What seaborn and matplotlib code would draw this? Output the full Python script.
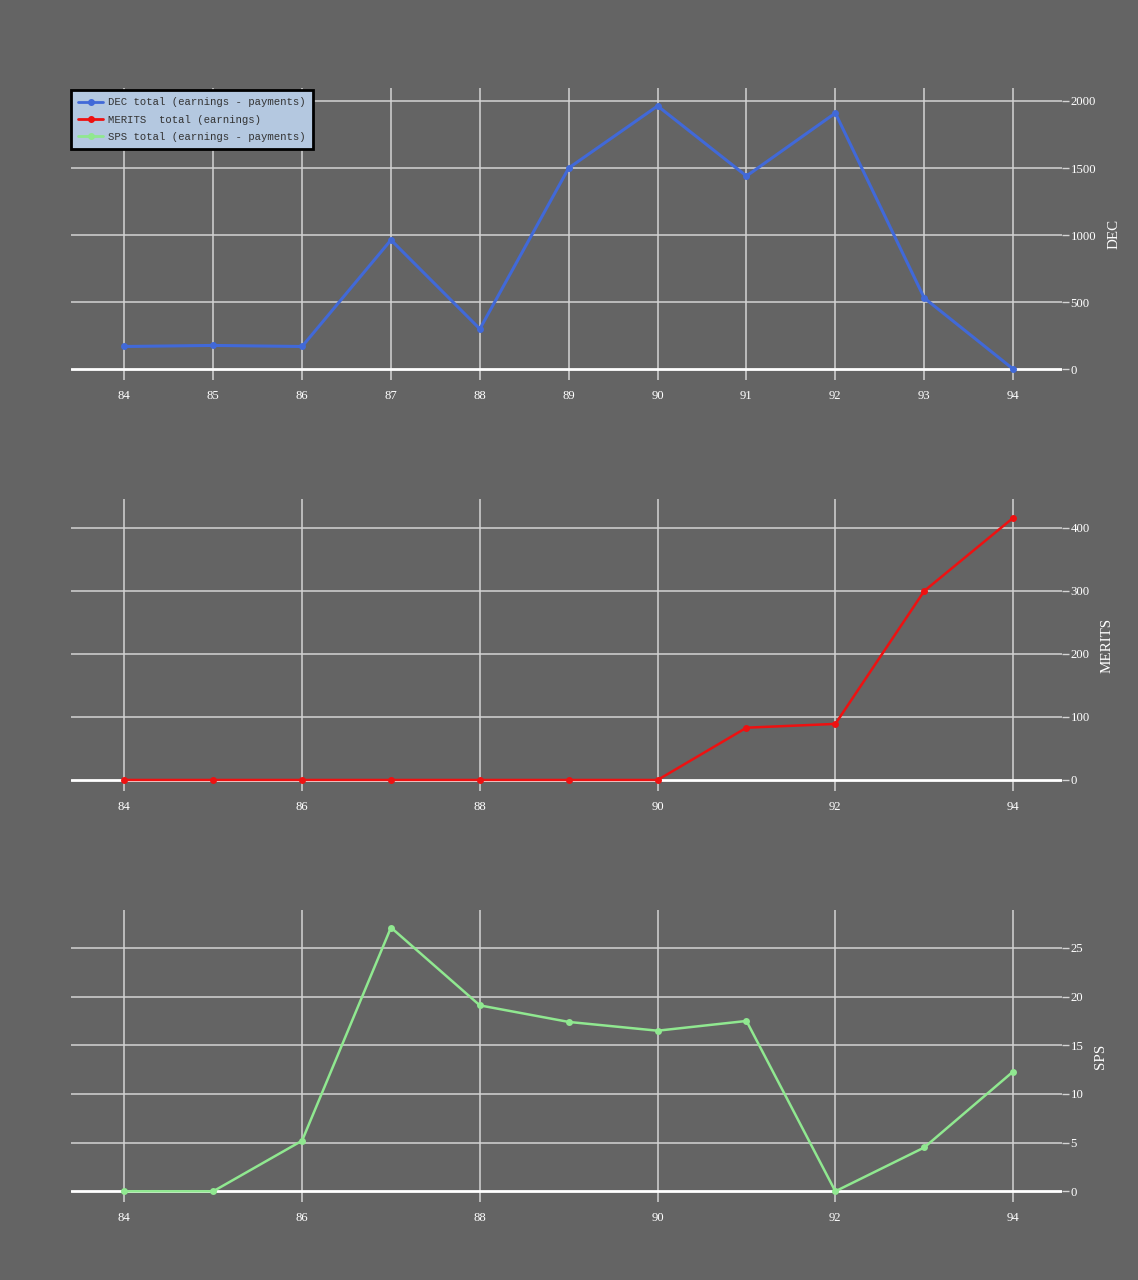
import matplotlib
matplotlib.use("Agg")
import matplotlib.pyplot as plt
import seaborn as sns
import pandas as pd
from matplotlib.lines import Line2D

periods = [84, 85, 86, 87, 88, 89, 90, 91, 92, 93, 94]
dec_values = [168, 176, 168, 963, 299, 1500, 1963, 1440, 1910, 530, 0]
merits_values = [0, 0, 0, 0, 0, 0, 0, 83, 89, 300, 416]
sps_values = [0, 0, 5.2, 27.1, 19.1, 17.4, 16.5, 17.5, 0, 4.5, 12.3]

dec_label = "DEC total (earnings - payments)"
merits_label = "MERITS  total (earnings)"
sps_label = "SPS total (earnings - payments)"

BG = "#646464"
GRID = "#d4d4d4"
DEC_C = "#4169d8"
MER_C = "#ee1111"
SPS_C = "#90e890"

sns.set_theme(style="dark")
plt.rcParams["font.family"] = ["Liberation Serif", "DejaVu Serif"]

fig = plt.figure(figsize=(11.38, 12.8), dpi=100, facecolor=BG)

left = 71 / 1138
width = (1062 - 71) / 1138
h = 292 / 1280
bottoms = [1 - 380 / 1280, 1 - 791 / 1280, 1 - 1202 / 1280]

panels = [
    ("DEC", dec_values, DEC_C, (-82, 2097), [0, 500, 1000, 1500, 2000], 1),
    ("MERITS", merits_values, MER_C, (-17.5, 446), [0, 100, 200, 300, 400], 2),
    ("SPS", sps_values, SPS_C, (-1.1, 28.9), [0, 5, 10, 15, 20, 25], 2),
]

axes = []
for (name, vals, col, ylim, yt, xstep), b in zip(panels, bottoms):
    ax = fig.add_axes([left, b, width, h])
    ax.set_facecolor(BG)
    df = pd.DataFrame({"x": periods, "y": vals})
    ax.set_xlim(83.4, 94.55)
    ax.set_ylim(*ylim)
    ax.set_xticks(list(range(84, 95, xstep)))
    ax.set_yticks(yt)
    for xv in ax.get_xticks():
        ax.axvline(xv, color=GRID, lw=1.1, zorder=1)
    for yv in yt:
        if yv == 0:
            ax.axhline(0, color="white", lw=2.0, zorder=1.5)
        else:
            ax.axhline(yv, color=GRID, lw=1.1, zorder=1)
    sns.lineplot(data=df, x="x", y="y", ax=ax, color=col, marker="o",
                 markersize=5, markeredgewidth=0, lw=2.2 if name == "DEC" else 1.8,
                 zorder=3)
    ax.grid(False)
    for s in ax.spines.values():
        s.set_visible(False)
    ax.yaxis.tick_right()
    ax.yaxis.set_label_position("right")
    ax.tick_params(axis="y", colors=GRID, labelcolor="white", length=5,
                   width=1, pad=1, labelsize=9.2, right=True, left=False)
    ax.tick_params(axis="x", colors="white", labelcolor="white", length=0,
                   pad=7, labelsize=9.2, bottom=True)
    ax.set_xlabel("")
    ax.set_ylabel(name, color="white", fontsize=10.8, labelpad=8)
    ax.set_xticklabels([str(t) for t in ax.get_xticks().astype(int)])
    axes.append(ax)

handles = [
    Line2D([0], [0], color=DEC_C, marker="o", markersize=4, lw=2),
    Line2D([0], [0], color=MER_C, marker="o", markersize=4, lw=2),
    Line2D([0], [0], color=SPS_C, marker="o", markersize=4, lw=2),
]
leg = axes[0].legend(handles, [dec_label, merits_label, sps_label],
                     loc="upper left", bbox_to_anchor=(0.0, 1 - 2 / 292),
                     borderaxespad=0.0,
                     prop={"family": "Liberation Mono", "size": 7.65},
                     frameon=True, fancybox=False, facecolor="#b4c8e0",
                     edgecolor="black", framealpha=1, handlelength=2.3,
                     handletextpad=0.45, borderpad=0.7, labelspacing=0.68)
leg.get_frame().set_linewidth(2)
for t in leg.get_texts():
    t.set_color("#333333")
leg.set_zorder(10)

fig.savefig("out.png", dpi=100, facecolor=BG)
